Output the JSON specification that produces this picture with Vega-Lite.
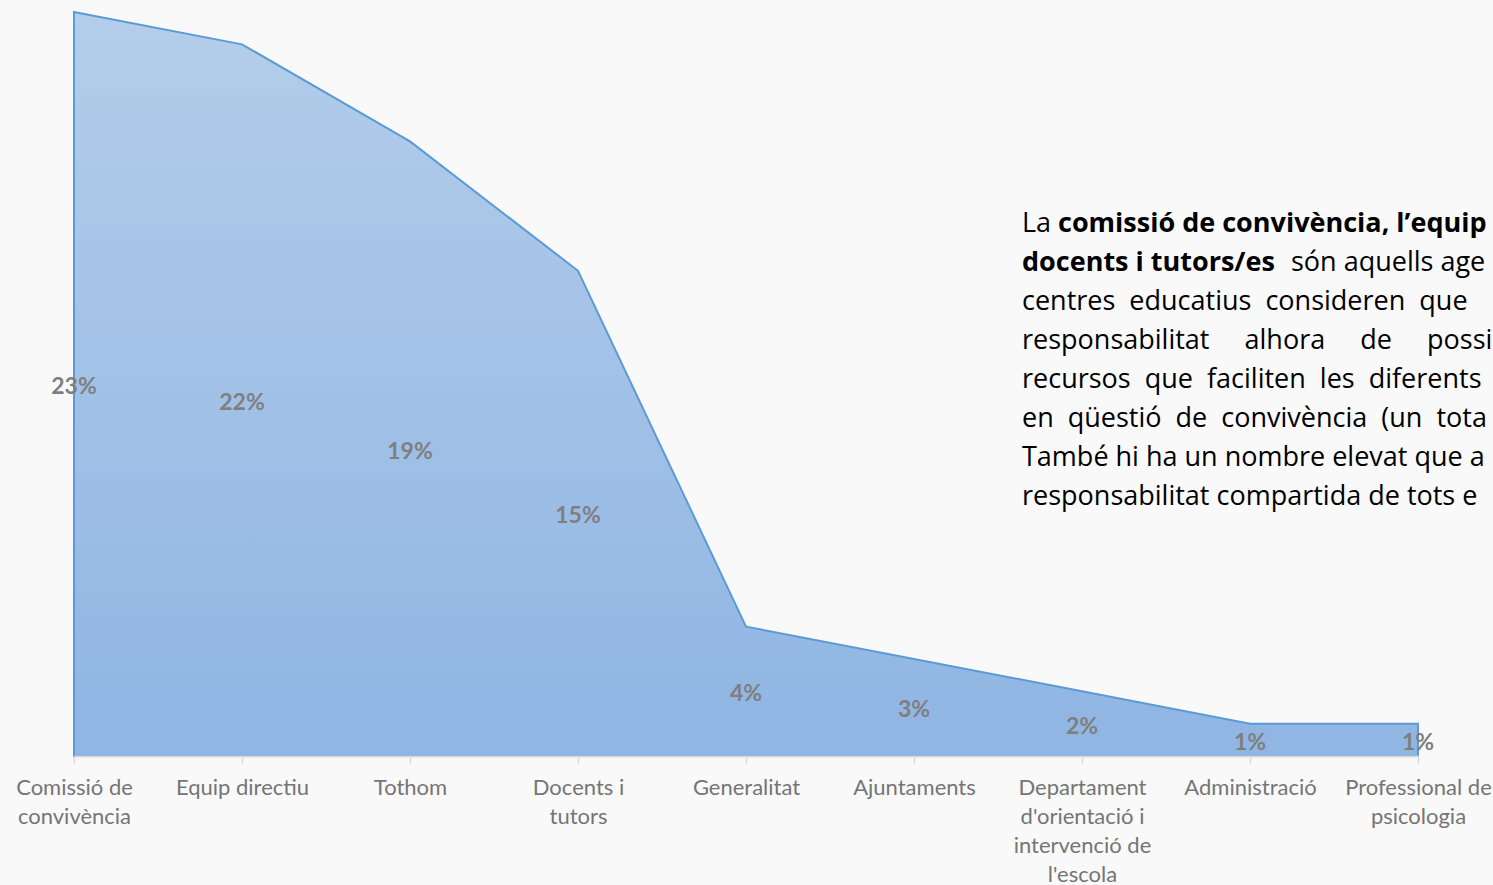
{
  "$schema": "https://vega.github.io/schema/vega-lite/v6.json",
  "width": 1344,
  "height": 744,
  "autosize": "none",
  "padding": {"left": 74, "top": 12, "right": 75, "bottom": 129},
  "background": "#f9f9f9",
  "config": {"view": {"stroke": null}, "font": "Lato"},
  "datasets": {
    "agents": [
      {"agent": "Comissió de\nconvivència", "share": 0.23},
      {"agent": "Equip directiu", "share": 0.22},
      {"agent": "Tothom", "share": 0.19},
      {"agent": "Docents i\ntutors", "share": 0.15},
      {"agent": "Generalitat", "share": 0.04},
      {"agent": "Ajuntaments", "share": 0.03},
      {"agent": "Departament\nd'orientació i\nintervenció de\nl'escola", "share": 0.02},
      {"agent": "Administració", "share": 0.01},
      {"agent": "Professional de\npsicologia", "share": 0.01}
    ],
    "nota": [
      {"linia": 1, "tros": "a", "destacat": false, "text": "La"},
      {"linia": 1, "tros": "b", "destacat": true, "text": "comissió de convivència, l’equip d"},
      {"linia": 2, "tros": "a", "destacat": true, "text": "docents i tutors/es"},
      {"linia": 2, "tros": "b", "destacat": false, "text": "són aquells age"},
      {"linia": 3, "tros": "a", "destacat": false, "text": "centres \u00a0educatius \u00a0consideren \u00a0que"},
      {"linia": 4, "tros": "a", "destacat": false, "text": "responsabilitat \u00a0\u00a0\u00a0\u00a0alhora \u00a0\u00a0\u00a0\u00a0de \u00a0\u00a0\u00a0\u00a0possi"},
      {"linia": 5, "tros": "a", "destacat": false, "text": "recursos \u00a0que \u00a0faciliten \u00a0les \u00a0diferents"},
      {"linia": 6, "tros": "a", "destacat": false, "text": "en \u00a0qüestió \u00a0de \u00a0convivència \u00a0(un \u00a0tota"},
      {"linia": 7, "tros": "a", "destacat": false, "text": "També hi ha un nombre elevat que a"},
      {"linia": 8, "tros": "a", "destacat": false, "text": "responsabilitat compartida de tots e"}
    ]
  },
  "layer": [
    {
      "data": {"name": "agents"},
      "mark": {
        "type": "area",
        "stroke": "#5b9bd5",
        "strokeWidth": 2,
        "fill": {
          "gradient": "linear",
          "x1": 0, "y1": 0, "x2": 0, "y2": 1,
          "stops": [
            {"offset": 0, "color": "#b4cdea"},
            {"offset": 1, "color": "#8fb5e3"}
          ]
        }
      },
      "encoding": {
        "x": {
          "field": "agent",
          "type": "nominal",
          "sort": null,
          "scale": {"type": "point", "padding": 0},
          "axis": {
            "title": null,
            "zindex": 1,
            "domainColor": "#d9d9d9",
            "domainWidth": 2,
            "tickColor": "#d9d9d9",
            "tickSize": 7,
            "tickWidth": 1.5,
            "labelAngle": 0,
            "labelFont": "Lato",
            "labelFontSize": 22,
            "labelColor": "#757575",
            "labelPadding": 14,
            "labelLineHeight": 29,
            "labelOverlap": false,
            "labelBound": false,
            "labelFlush": false,
            "labelExpr": "split(datum.value, '\\n')"
          }
        },
        "y": {
          "field": "share",
          "type": "quantitative",
          "scale": {"domain": [0, 0.23]},
          "axis": null
        }
      }
    },
    {
      "data": {"name": "agents"},
      "mark": {"type": "text", "font": "Lato", "fontWeight": "bold", "fontSize": 23, "color": "#7f7f7f", "dy": 3},
      "encoding": {
        "x": {"field": "agent", "type": "nominal", "sort": null},
        "y": {
          "field": "share",
          "type": "quantitative",
          "scale": {"domain": [0, 0.46]},
          "axis": null
        },
        "text": {"field": "share", "type": "quantitative", "format": ".0%"}
      }
    },
    {
      "data": {"name": "nota"},
      "transform": [{"filter": "datum.tros == 'a' && !datum.destacat"}],
      "mark": {"type": "text", "font": "Open Sans", "fontSize": 27, "letterSpacing": 1.3, "align": "left", "color": "#000000", "dx": -60},
      "encoding": {
        "x": {"datum": "Departament\nd'orientació i\nintervenció de\nl'escola", "type": "nominal"},
        "y": {"field": "linia", "type": "quantitative", "scale": {"domain": [1, 8], "range": [212, 485], "zero": false}, "axis": null},
        "text": {"field": "text"}
      }
    },
    {
      "data": {"name": "nota"},
      "transform": [{"filter": "datum.tros == 'a' && datum.destacat"}],
      "mark": {"type": "text", "font": "Open Sans", "fontSize": 27, "letterSpacing": 1.3, "fontWeight": "bold", "align": "left", "color": "#000000", "dx": -60},
      "encoding": {
        "x": {"datum": "Departament\nd'orientació i\nintervenció de\nl'escola", "type": "nominal"},
        "y": {"field": "linia", "type": "quantitative", "scale": {"domain": [1, 8], "range": [212, 485], "zero": false}, "axis": null},
        "text": {"field": "text"}
      }
    },
    {
      "data": {"name": "nota"},
      "transform": [{"filter": "datum.tros == 'b' && datum.destacat"}],
      "mark": {"type": "text", "font": "Open Sans", "fontSize": 27, "letterSpacing": 1.3, "fontWeight": "bold", "align": "left", "color": "#000000", "dx": -24},
      "encoding": {
        "x": {"datum": "Departament\nd'orientació i\nintervenció de\nl'escola", "type": "nominal"},
        "y": {"field": "linia", "type": "quantitative", "scale": {"domain": [1, 8], "range": [212, 485], "zero": false}, "axis": null},
        "text": {"field": "text"}
      }
    },
    {
      "data": {"name": "nota"},
      "transform": [{"filter": "datum.tros == 'b' && !datum.destacat"}],
      "mark": {"type": "text", "font": "Open Sans", "fontSize": 27, "letterSpacing": 1.3, "align": "left", "color": "#000000", "dx": 209},
      "encoding": {
        "x": {"datum": "Departament\nd'orientació i\nintervenció de\nl'escola", "type": "nominal"},
        "y": {"field": "linia", "type": "quantitative", "scale": {"domain": [1, 8], "range": [212, 485], "zero": false}, "axis": null},
        "text": {"field": "text"}
      }
    }
  ],
  "resolve": {"scale": {"y": "independent"}}
}
